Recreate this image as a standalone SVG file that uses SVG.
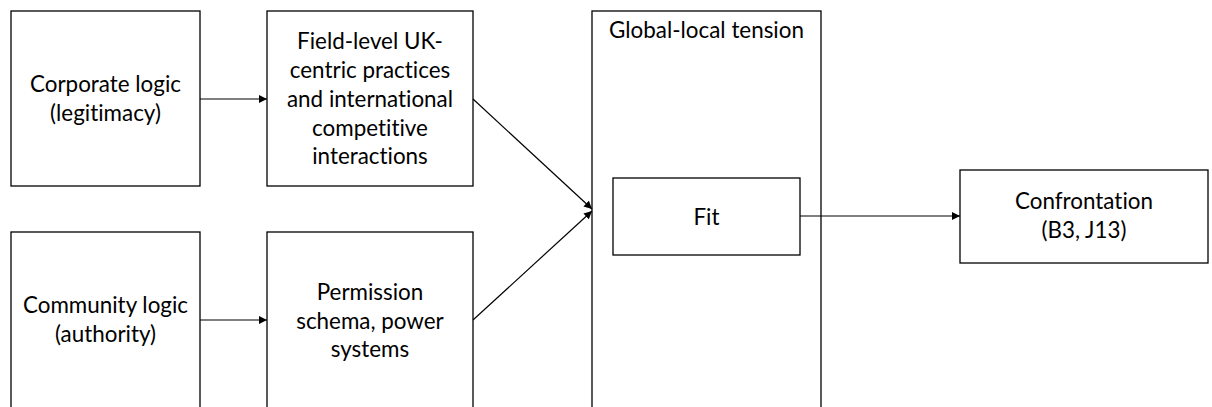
<svg xmlns="http://www.w3.org/2000/svg" width="1212" height="407" viewBox="0 0 1212 407">
  <defs>
    <marker id="arrow" viewBox="0 0 10 10" refX="10" refY="5" markerWidth="8" markerHeight="8" markerUnits="userSpaceOnUse" orient="auto">
      <path d="M0,0 L10,5 L0,10 z" fill="#000"/>
    </marker>
  </defs>
  <style>
    .box { fill: #fff; stroke: #000; stroke-width: 1.3; }
    .lbl { font-family: "Lato", "Liberation Sans", sans-serif; font-size: 22.4px; fill: #000; text-anchor: middle; font-variant-ligatures: none; }
    .edge { stroke: #000; stroke-width: 1.2; fill: none; marker-end: url(#arrow); }
  </style>
  <rect width="1212" height="407" fill="#fff"/>

  <g id="corporate-logic">
    <rect class="box" x="11" y="11" width="189" height="175"/>
    <text class="lbl" x="105.5" y="92">Corporate logic</text>
    <text class="lbl" x="105.5" y="121">(legitimacy)</text>
  </g>

  <g id="field-level">
    <rect class="box" x="267" y="11" width="206" height="175"/>
    <text class="lbl" x="370" y="49">Field-level UK-</text>
    <text class="lbl" x="370" y="78">centric practices</text>
    <text class="lbl" x="370" y="107">and international</text>
    <text class="lbl" x="370" y="136">competitive</text>
    <text class="lbl" x="370" y="164">interactions</text>
  </g>

  <g id="community-logic">
    <rect class="box" x="11" y="232" width="189" height="190"/>
    <text class="lbl" x="105.5" y="313">Community logic</text>
    <text class="lbl" x="105.5" y="342">(authority)</text>
  </g>

  <g id="permission-schema">
    <rect class="box" x="267" y="232" width="206" height="190"/>
    <text class="lbl" x="370" y="300">Permission</text>
    <text class="lbl" x="370" y="329">schema, power</text>
    <text class="lbl" x="370" y="357">systems</text>
  </g>

  <g id="global-local-tension">
    <rect class="box" x="592" y="11" width="229" height="411"/>
    <text class="lbl" x="706.5" y="38">Global-local tension</text>
  </g>

  <g id="fit">
    <rect class="box" x="613" y="178" width="187" height="77"/>
    <text class="lbl" x="706.5" y="225">Fit</text>
  </g>

  <g id="confrontation">
    <rect class="box" x="960" y="170" width="248" height="93"/>
    <text class="lbl" x="1084" y="209">Confrontation</text>
    <text class="lbl" x="1084" y="238">(B3, J13)</text>
  </g>

  <g id="connectors">
    <line class="edge" x1="200" y1="99" x2="267" y2="99"/>
    <line class="edge" x1="200" y1="320" x2="267" y2="320"/>
    <line class="edge" x1="473" y1="99" x2="592" y2="209"/>
    <line class="edge" x1="473" y1="320" x2="592" y2="211"/>
    <line class="edge" x1="800" y1="216" x2="960" y2="216"/>
  </g>
</svg>
